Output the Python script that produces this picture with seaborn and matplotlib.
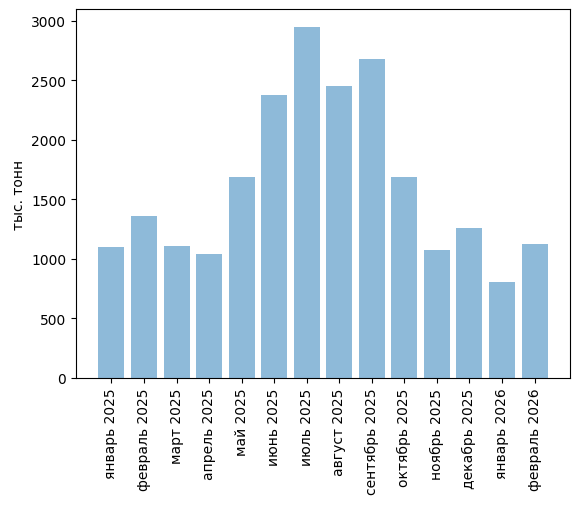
import pandas as pd
import matplotlib
matplotlib.use("Agg")
import matplotlib.pyplot as plt
import seaborn as sns

months = ["январь 2025", "февраль 2025", "март 2025", "апрель 2025",
          "май 2025", "июнь 2025", "июль 2025", "август 2025",
          "сентябрь 2025", "октябрь 2025", "ноябрь 2025", "декабрь 2025",
          "январь 2026", "февраль 2026"]
volumes = [1100, 1360, 1108, 1042, 1687, 2373, 2951, 2449,
           2675, 1687, 1075, 1260, 807, 1126]

df = pd.DataFrame({"month": months, "volume": volumes})

fig = plt.figure(figsize=(5.8, 5.06), dpi=100)
ax = fig.add_axes([76 / 580, 1 - 379 / 506, (570 - 76) / 580, (379 - 10) / 506])

sns.barplot(data=df, x="month", y="volume", color="#1f77b4", alpha=0.5,
            saturation=1, errorbar=None, linewidth=0, width=0.8, ax=ax)

# same padding as plain matplotlib bars
n = len(months)
pad = 0.05 * (n - 1 + 0.8)
ax.set_xlim(-0.4 - pad, n - 1 + 0.4 + pad)

ax.set_xlabel("")
ax.set_ylabel("тыс. тонн")
ax.tick_params(axis="x", rotation=90)

fig.savefig("out.png", dpi=100)
